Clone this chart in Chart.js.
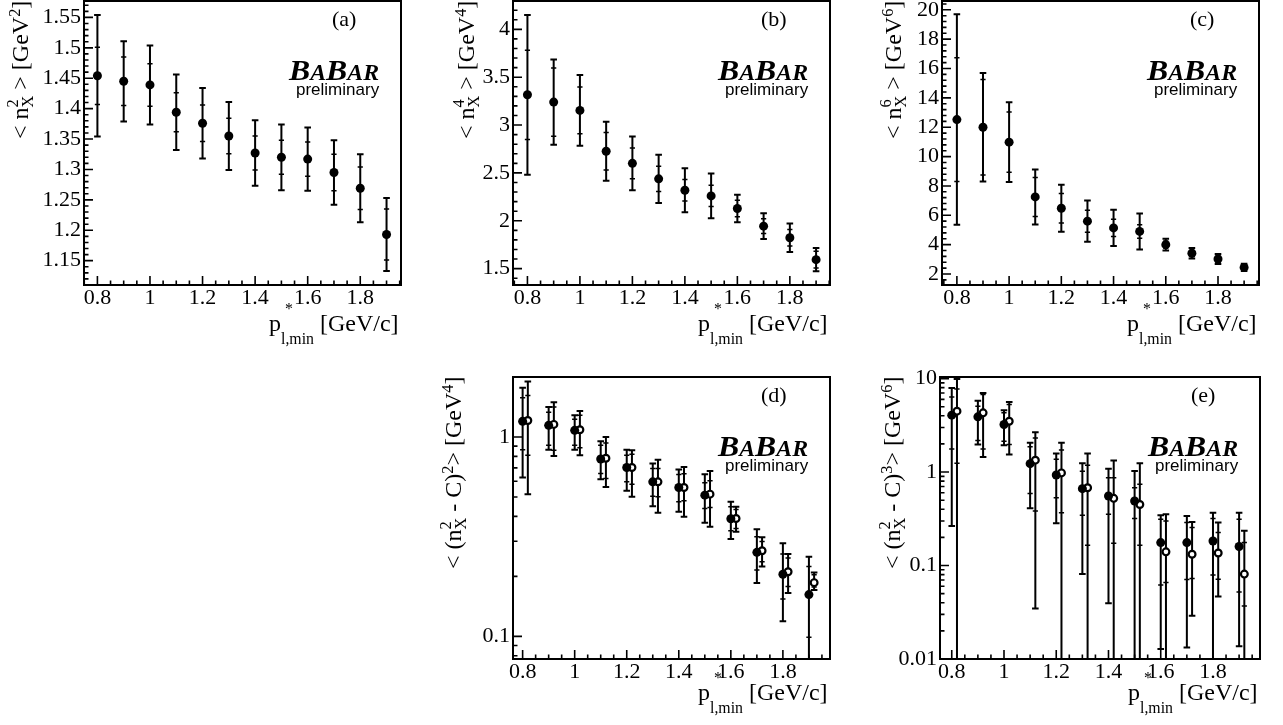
<!DOCTYPE html>
<html>
<head>
<meta charset="utf-8">
<title>BABAR moments vs p*_l,min</title>
<script src="https://cdn.jsdelivr.net/npm/chart.js@4.4.1/dist/chart.umd.min.js"></script>
<style>
html,body{margin:0;padding:0;background:#fff;}
#page{position:relative;width:1283px;height:725px;overflow:hidden;background:#fff;}
#page canvas{position:absolute;}
.t{position:absolute;white-space:nowrap;font-family:"Liberation Serif","Times New Roman",serif;font-size:22px;line-height:1.15;color:#000;}
.ttl{font-size:24px;}
.sup{font-size:0.68em;position:relative;top:-0.5em;}
.ss{display:inline-block;vertical-align:-0.3em;line-height:0.9em;font-size:0.68em;text-align:left;}
.ssx{display:inline-block;vertical-align:-0.85em;line-height:1.9em;font-size:0.66em;text-align:left;}
.ss>span,.ssx>span{display:block;}
.babar{font-weight:bold;font-style:italic;}
.babar .big{font-size:30px;}
.babar .sml{font-size:22.5px;}
.prelim{font-family:"Liberation Sans",Arial,sans-serif;font-size:17px;}
</style>
</head>
<body>
<div id="page"></div>
<script>
// ---------------- data ----------------
const xPts     = [0.8, 0.9, 1.0, 1.1, 1.2, 1.3, 1.4, 1.5, 1.6, 1.7, 1.8, 1.9];
const xPtsOpen = [0.82, 0.92, 1.02, 1.12, 1.22, 1.32, 1.42, 1.52, 1.62, 1.72, 1.82, 1.92];
const xTickVals = [0.8, 1.0, 1.2, 1.4, 1.6, 1.8];

// (a) <n_X^2>
const aY    = [1.454, 1.445, 1.439, 1.394, 1.376, 1.355, 1.327, 1.320, 1.317, 1.295, 1.269, 1.193];
const aStat = [0.047, 0.040, 0.035, 0.032, 0.030, 0.029, 0.028, 0.028, 0.028, 0.030, 0.035, 0.042];
const aTot  = [0.100, 0.066, 0.065, 0.062, 0.058, 0.056, 0.054, 0.054, 0.052, 0.053, 0.056, 0.060];
const aTicks = [1.15, 1.2, 1.25, 1.3, 1.35, 1.4, 1.45, 1.5, 1.55];

// (b) <n_X^4>
const bY    = [3.316, 3.240, 3.153, 2.726, 2.600, 2.438, 2.319, 2.260, 2.128, 1.944, 1.823, 1.594];
const bStat = [0.466, 0.356, 0.245, 0.195, 0.160, 0.132, 0.112, 0.110, 0.087, 0.078, 0.087, 0.088];
const bTot  = [0.834, 0.445, 0.370, 0.309, 0.281, 0.253, 0.229, 0.233, 0.143, 0.134, 0.148, 0.122];
const bTicks = [1.5, 2, 2.5, 3, 3.5, 4];

// (c) <n_X^6>
const cY    = [12.52, 12.00, 10.98, 7.25, 6.48, 5.60, 5.14, 4.90, 4.00, 3.41, 3.02, 2.45];
const cStat = [4.22, 3.25, 2.05, 1.33, 1.00, 0.75, 0.59, 0.46, 0.24, 0.21, 0.20, 0.15];
const cTot  = [7.17, 3.70, 2.72, 1.87, 1.60, 1.40, 1.23, 1.23, 0.40, 0.36, 0.34, 0.24];
const cTicks = [2, 4, 6, 8, 10, 12, 14, 16, 18, 20];

// (d) <(n_X^2 - C)^2>  filled and open
const dFilledY      = [1.198, 1.144, 1.080, 0.776, 0.703, 0.596, 0.558, 0.511, 0.389, 0.264, 0.205, 0.162];
const dFilledStatLo = [0.864, 0.909, 0.909, 0.656, 0.596, 0.505, 0.473, 0.438, 0.339, 0.215, 0.154, 0.099];
const dFilledStatHi = [1.573, 1.330, 1.226, 0.909, 0.810, 0.695, 0.648, 0.589, 0.447, 0.316, 0.259, 0.224];
const dFilledTotLo  = [0.626, 0.864, 0.864, 0.614, 0.537, 0.450, 0.422, 0.372, 0.308, 0.185, 0.119, 0.010];
const dFilledTotHi  = [1.765, 1.413, 1.284, 0.951, 0.864, 0.736, 0.687, 0.651, 0.473, 0.345, 0.293, 0.251];
const dOpenY        = [1.210, 1.157, 1.088, 0.782, 0.703, 0.596, 0.558, 0.517, 0.390, 0.269, 0.211, 0.186];
const dOpenStatLo   = [0.810, 0.858, 0.884, 0.619, 0.580, 0.501, 0.479, 0.443, 0.348, 0.237, 0.178, 0.177];
const dOpenStatHi   = [1.615, 1.413, 1.284, 0.933, 0.819, 0.695, 0.655, 0.603, 0.433, 0.299, 0.247, 0.204];
const dOpenTotLo    = [0.517, 0.803, 0.810, 0.562, 0.501, 0.417, 0.398, 0.355, 0.335, 0.224, 0.165, 0.171];
const dOpenTotHi    = [1.897, 1.496, 1.349, 1.000, 0.858, 0.770, 0.708, 0.676, 0.447, 0.314, 0.259, 0.209];
const dTicks = [0.1, 1];

// (e) <(n_X^2 - C)^3>  filled and open (0.001 = runs below the frame)
const eFilledY      = [4.06, 3.90, 3.23, 1.23, 0.93, 0.664, 0.554, 0.49, 0.176, 0.176, 0.183, 0.160];
const eFilledStatLo = [1.77, 2.18, 2.14, 0.59, 0.532, 0.345, 0.353, 0.318, 0.062, 0.071, 0.079, 0.052];
const eFilledStatHi = [6.37, 5.07, 4.30, 1.86, 1.37, 1.02, 0.87, 0.68, 0.312, 0.288, 0.318, 0.312];
const eFilledTotLo  = [0.265, 1.97, 1.93, 0.409, 0.283, 0.081, 0.0396, 0.001, 0.0128, 0.0133, 0.001, 0.0137];
const eFilledTotHi  = [7.95, 5.78, 4.59, 2.06, 1.58, 1.24, 1.085, 1.025, 0.345, 0.339, 0.368, 0.368];
const eOpenY        = [4.48, 4.30, 3.50, 1.34, 0.98, 0.68, 0.523, 0.45, 0.140, 0.132, 0.136, 0.081];
const eOpenStatLo   = [1.24, 1.77, 1.97, 0.383, 0.368, 0.165, 0.173, 0.165, 0.066, 0.0727, 0.0713, 0.037];
const eOpenStatHi   = [7.76, 6.76, 5.28, 2.31, 1.72, 1.18, 0.87, 0.74, 0.300, 0.255, 0.225, 0.176];
const eOpenTotLo    = [0.001, 1.45, 1.54, 0.0347, 0.001, 0.001, 0.001, 0.001, 0.001, 0.029, 0.0467, 0.001];
const eOpenTotHi    = [9.9, 7.03, 5.63, 2.67, 2.06, 1.58, 1.33, 1.24, 0.353, 0.292, 0.288, 0.235];
const eTicks = [0.01, 0.1, 1, 10];

// ---------------- helpers ----------------
function sym(xs, y, stat, tot, open) {
  return {x: xs, y: y, open: open,
    statLo: y.map((v, i) => v - stat[i]), statHi: y.map((v, i) => v + stat[i]),
    totLo: y.map((v, i) => v - tot[i]), totHi: y.map((v, i) => v + tot[i])};
}
function asym(xs, y, sLo, sHi, tLo, tHi, open) {
  return {x: xs, y: y, open: open, statLo: sLo, statHi: sHi, totLo: tLo, totHi: tHi};
}
const ss  = (up, dn) => '<span class="ss"><span>' + up + '</span><span>' + dn + '</span></span>';
const sup = (s) => '<span class="sup">' + s + '</span>';
const xTitleHtml = 'p<span class="ssx"><span>&nbsp;*</span><span>l,min</span></span> [GeV/c]';

const panels = [
  {frame: [84, 1, 401, 285], xRange: [0.749, 1.955], yType: 'linear', yRange: [1.11, 1.577], yTicks: aTicks, yMinor: 0.01,
   series: [sym(xPts, aY, aStat, aTot, false)], label: '(a)',
   yTitle: '&lt; n' + ss('2', 'X') + ' &gt; [GeV' + sup('2') + ']', yTitleX: 28, xTitleBase: 331},
  {frame: [513, 1, 830, 285], xRange: [0.745, 1.953], yType: 'linear', yRange: [1.329, 4.296], yTicks: bTicks, yMinor: 0.1,
   series: [sym(xPts, bY, bStat, bTot, false)], label: '(b)',
   yTitle: '&lt; n' + ss('4', 'X') + ' &gt; [GeV' + sup('4') + ']', yTitleX: 474, xTitleBase: 331},
  {frame: [942, 1, 1259, 285], xRange: [0.743, 1.957], yType: 'linear', yRange: [1.25, 20.6], yTicks: cTicks, yMinor: 0.4,
   series: [sym(xPts, cY, cStat, cTot, false)], label: '(c)',
   yTitle: '&lt; n' + ss('6', 'X') + ' &gt; [GeV' + sup('6') + ']', yTitleX: 901, xTitleBase: 331},
  {frame: [513, 377, 830, 659], xRange: [0.763, 1.981], yType: 'logarithmic', yRange: [0.077, 2.0], yTicks: dTicks,
   series: [asym(xPts, dFilledY, dFilledStatLo, dFilledStatHi, dFilledTotLo, dFilledTotHi, false),
            asym(xPtsOpen, dOpenY, dOpenStatLo, dOpenStatHi, dOpenTotLo, dOpenTotHi, true)], label: '(d)',
   yTitle: '&lt; (n' + ss('2', 'X') + ' - C)' + sup('2') + '&gt; [GeV' + sup('4') + ']', yTitleX: 461, xTitleBase: 700},
  {frame: [940, 377, 1260, 659], xRange: [0.755, 1.980], yType: 'logarithmic', yRange: [0.01, 10.4], yTicks: eTicks,
   series: [asym(xPts, eFilledY, eFilledStatLo, eFilledStatHi, eFilledTotLo, eFilledTotHi, false),
            asym(xPtsOpen, eOpenY, eOpenStatLo, eOpenStatHi, eOpenTotLo, eOpenTotHi, true)], label: '(e)',
   yTitle: '&lt; (n' + ss('2', 'X') + ' - C)' + sup('3') + '&gt; [GeV' + sup('6') + ']', yTitleX: 900, xTitleBase: 700}
];

const page = document.getElementById('page');
const SERIF = '"Liberation Serif", "Times New Roman", serif';
Chart.defaults.font.family = SERIF;
Chart.defaults.color = '#000';

function placeText(html, cls, x, base, mode, targetW) {
  const d = document.createElement('div');
  d.className = 't' + (cls ? ' ' + cls : '');
  d.innerHTML = html;
  const m = document.createElement('span');
  m.style.cssText = 'display:inline-block;width:0;height:0;vertical-align:baseline;';
  d.appendChild(m);
  page.appendChild(d);
  const off = m.offsetTop;
  const w = d.offsetWidth;
  if (mode === 'rot') {
    d.style.transformOrigin = '0 0';
    d.style.transform = 'rotate(-90deg)';
    d.style.left = (x - off) + 'px';
    d.style.top = (base + w) + 'px';
  } else {
    d.style.left = (mode === 'right' ? x - w : x) + 'px';
    d.style.top = (base - off) + 'px';
    if (targetW) {
      d.style.transformOrigin = '100% 0';
      d.style.transform = 'scaleX(' + (targetW / w) + ')';
    }
  }
  return d;
}

const fmt = (v) => String(+Number(v).toFixed(4));
const isMult = (v, s) => Math.abs(v / s - Math.round(v / s)) < 1e-6;

function buildPanel(p) {
  const [L, T, R, B] = p.frame;
  const yW = 100, padT = 30, padR = 20, xH = 40;
  const W = (R - L) + yW + padR, H = (B - T) + padT + xH;
  const cv = document.createElement('canvas');
  cv.width = W; cv.height = H;
  cv.style.width = W + 'px'; cv.style.height = H + 'px';
  cv.style.left = (L - yW) + 'px'; cv.style.top = (T - padT) + 'px';
  page.appendChild(cv);

  const hep = {
    id: 'hep',
    beforeDatasetsDraw(chart) {
      const {ctx, chartArea: a, scales: {x, y}} = chart;
      ctx.save();
      ctx.beginPath();
      ctx.rect(a.left, a.top, a.right - a.left, a.bottom - a.top);
      ctx.clip();
      ctx.strokeStyle = '#000';
      p.series.forEach(s => {
        s.x.forEach((xv, i) => {
          const px = x.getPixelForValue(xv);
          const t0 = y.getPixelForValue(s.totLo[i]), t1 = y.getPixelForValue(s.totHi[i]);
          const s0 = y.getPixelForValue(s.statLo[i]), s1 = y.getPixelForValue(s.statHi[i]);
          ctx.lineWidth = 2;
          ctx.beginPath();
          ctx.moveTo(px, t0); ctx.lineTo(px, t1);
          ctx.moveTo(px - 3.3, t0); ctx.lineTo(px + 3.3, t0);
          ctx.moveTo(px - 3.3, t1); ctx.lineTo(px + 3.3, t1);
          ctx.stroke();
          ctx.lineWidth = 1.5;
          ctx.beginPath();
          ctx.moveTo(px - 2.6, s0); ctx.lineTo(px + 2.6, s0);
          ctx.moveTo(px - 2.6, s1); ctx.lineTo(px + 2.6, s1);
          ctx.stroke();
        });
      });
      ctx.restore();
    },
    afterDraw(chart) {
      const {ctx, chartArea: a, scales: {x, y}} = chart;
      ctx.save();
      ctx.strokeStyle = '#000';
      ctx.lineWidth = 1.6;
      ctx.beginPath();
      const majX = x.ticks.map(t => t.value);
      majX.forEach(v => { const px = x.getPixelForValue(v); ctx.moveTo(px, a.bottom); ctx.lineTo(px, a.bottom - 9); });
      for (let k = Math.ceil(x.min / 0.05 - 1e-9); k * 0.05 <= x.max + 1e-9; k++) {
        const v = k * 0.05;
        if (isMult(v, 0.2)) continue;
        const px = x.getPixelForValue(v);
        ctx.moveTo(px, a.bottom); ctx.lineTo(px, a.bottom - 4.5);
      }
      const majY = y.ticks.map(t => t.value);
      majY.forEach(v => { const py = y.getPixelForValue(v); ctx.moveTo(a.left, py); ctx.lineTo(a.left + 9, py); });
      if (p.yType === 'linear') {
        const st = p.yMinor, major = majY[1] - majY[0];
        for (let k = Math.ceil(y.min / st - 1e-9); k * st <= y.max + 1e-9; k++) {
          const v = k * st;
          if (isMult(v - majY[0], major)) continue;
          const py = y.getPixelForValue(v);
          ctx.moveTo(a.left, py); ctx.lineTo(a.left + 4.5, py);
        }
      } else {
        for (let e = Math.floor(Math.log10(y.min)); e <= Math.ceil(Math.log10(y.max)); e++) {
          for (let k = 2; k <= 9; k++) {
            const v = k * Math.pow(10, e);
            if (v < y.min || v > y.max) continue;
            const py = y.getPixelForValue(v);
            ctx.moveTo(a.left, py); ctx.lineTo(a.left + 4.5, py);
          }
        }
      }
      ctx.stroke();
      ctx.lineWidth = 2;
      ctx.strokeRect(a.left, a.top, a.right - a.left, a.bottom - a.top);
      ctx.restore();
    }
  };

  const datasets = p.series.map(s => ({
    data: s.x.map((xv, i) => ({x: xv, y: s.y[i]})),
    pointRadius: s.open ? 3.4 : 4.5,
    pointHoverRadius: s.open ? 3.4 : 4.5,
    pointBackgroundColor: s.open ? '#fff' : '#000',
    pointBorderColor: '#000',
    pointBorderWidth: s.open ? 2.2 : 0,
    showLine: false
  }));

  const tickFont = {family: SERIF, size: 22, lineHeight: 1.2};
  new Chart(cv, {
    type: 'scatter',
    data: {datasets},
    options: {
      responsive: false, maintainAspectRatio: false, animation: false,
      events: [],
      layout: {padding: {top: padT, right: padR, left: 0, bottom: 0}},
      plugins: {legend: {display: false}, tooltip: {enabled: false}},
      scales: {
        x: {type: 'linear', min: p.xRange[0], max: p.xRange[1],
            grid: {display: false, drawTicks: false}, border: {display: false},
            ticks: {color: '#000', font: tickFont, padding: 0, maxRotation: 0, minRotation: 0, autoSkip: false,
                    callback: (v) => fmt(v)},
            afterBuildTicks: (sc) => { sc.ticks = xTickVals.map(v => ({value: v})); },
            afterFit: (sc) => { sc.height = xH; }},
        y: {type: p.yType, min: p.yRange[0], max: p.yRange[1],
            grid: {display: false, drawTicks: false}, border: {display: false},
            ticks: {color: '#000', font: tickFont, padding: 3, autoSkip: false, callback: (v) => fmt(v)},
            afterBuildTicks: (sc) => { sc.ticks = p.yTicks.map(v => ({value: v})); },
            afterFit: (sc) => { sc.width = yW; }}
      }
    },
    plugins: [hep]
  });

  // texts
  placeText(p.label, '', R - 69, T + 25, 'left');
  placeText('<span class="big">B</span><span class="sml">A</span><span class="big">B</span><span class="sml">AR</span>',
            'babar', R - 22, T + 79, 'right', 90);
  placeText('preliminary', 'prelim', R - 22, T + 94, 'right');
  placeText(xTitleHtml, 'ttl', R - 2, p.xTitleBase, 'right');
  placeText(p.yTitle, 'ttl', p.yTitleX, T, 'rot');
}

panels.forEach(buildPanel);
</script>
</body>
</html>
